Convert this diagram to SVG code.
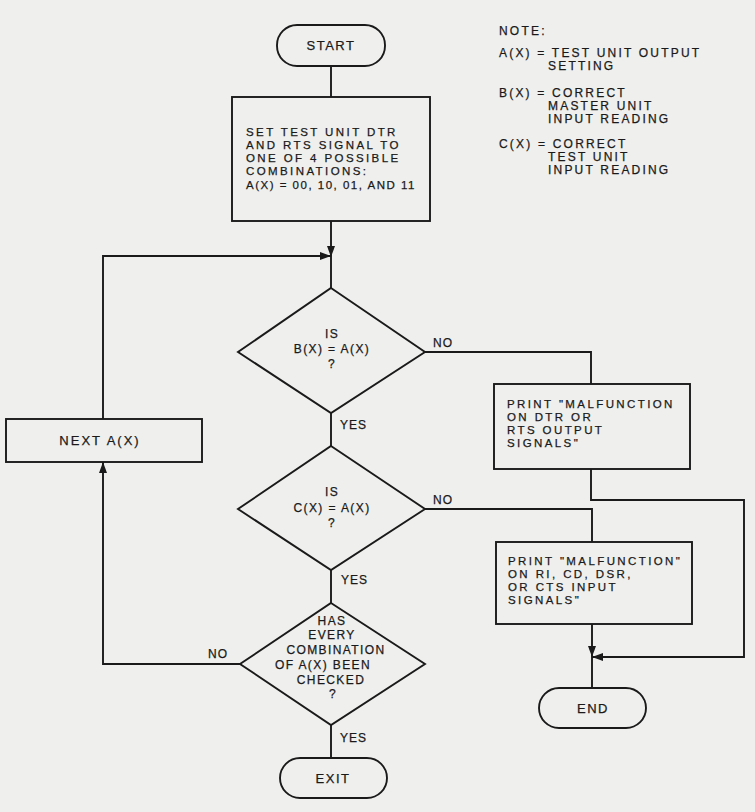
<svg xmlns="http://www.w3.org/2000/svg" width="755" height="812" viewBox="0 0 755 812">
<style>
  .bg{fill:#efefed}
  .shape{fill:none;stroke:#1a1a1a;stroke-width:1.9}
  .line{fill:none;stroke:#1a1a1a;stroke-width:1.9}
  text{font-family:"Liberation Sans",Arial,sans-serif;fill:#1a1a1a;stroke:#1a1a1a;stroke-width:0.25}
  .t{font-size:11.5px;letter-spacing:2.4px}
  .c{font-size:12px;letter-spacing:1.4px;text-anchor:middle}
  .m{font-size:13px;letter-spacing:1.5px;text-anchor:middle}
  .lbl{font-size:12px;letter-spacing:1px}
  .note{font-size:12px;letter-spacing:2.2px}
</style>
<defs>
  <marker id="arr" markerWidth="12" markerHeight="10" refX="11" refY="5" orient="auto" markerUnits="userSpaceOnUse">
    <path d="M0,1 L11,5 L0,9 Z" fill="#1a1a1a"/>
  </marker>
</defs>
<rect class="bg" x="0" y="0" width="755" height="812"/>

<g id="connectors">
  <path class="line" d="M331,66 V97"/>
  <path class="line" d="M331,221 V257" marker-end="url(#arr)"/>
  <path class="line" d="M331,257 V288"/>
  <path class="line" d="M103,419 V256 H331" marker-end="url(#arr)"/>
  <path class="line" d="M331,413 V446"/>
  <path class="line" d="M331,570 V603"/>
  <path class="line" d="M240,664 H103 V462" marker-end="url(#arr)"/>
  <path class="line" d="M331,725 V758"/>
  <path class="line" d="M425,352 H591 V384"/>
  <path class="line" d="M591,469 V500 H744 V657 H592" marker-end="url(#arr)"/>
  <path class="line" d="M425,509 H592 V542"/>
  <path class="line" d="M592,624 V657" marker-end="url(#arr)"/>
  <path class="line" d="M592,657 V688"/>
  <text class="lbl" x="433" y="347">NO</text>
  <text class="lbl" x="340" y="429">YES</text>
  <text class="lbl" x="433" y="504">NO</text>
  <text class="lbl" x="341" y="584">YES</text>
  <text class="lbl" x="208" y="658">NO</text>
  <text class="lbl" x="340" y="742">YES</text>
</g>

<g id="start">
  <rect class="shape" x="277" y="25" width="108" height="41" rx="20"/>
  <text class="m" x="331" y="50">START</text>
</g>

<g id="set-signals">
  <rect class="shape" x="232" y="97" width="198" height="124"/>
  <text class="t" x="246" y="136">SET TEST UNIT DTR</text>
  <text class="t" x="246" y="149">AND RTS SIGNAL TO</text>
  <text class="t" x="246" y="162">ONE OF 4 POSSIBLE</text>
  <text class="t" x="246" y="175">COMBINATIONS:</text>
  <text class="t" x="246" y="189" style="letter-spacing:1.5px">A(X) = 00, 10, 01, AND 11</text>
</g>

<g id="decision-b">
  <polygon class="shape" points="331,288 425,352 331,413 238,352"/>
  <text class="c" x="332" y="338">IS</text>
  <text class="c" x="332" y="353">B(X) = A(X)</text>
  <text class="c" x="332" y="368">?</text>
</g>

<g id="decision-c">
  <polygon class="shape" points="331,446 425,509 331,570 238,509"/>
  <text class="c" x="332" y="496">IS</text>
  <text class="c" x="332" y="512">C(X) = A(X)</text>
  <text class="c" x="332" y="527">?</text>
</g>

<g id="decision-all">
  <polygon class="shape" points="331,603 425,664 331,725 240,664"/>
  <text class="c" x="332" y="625">HAS</text>
  <text class="c" x="332" y="639">EVERY</text>
  <text class="c" x="336" y="654">COMBINATION</text>
  <text class="c" x="323" y="669">OF A(X) BEEN</text>
  <text class="c" x="331" y="684">CHECKED</text>
  <text class="c" x="333" y="698">?</text>
</g>

<g id="next-ax">
  <rect class="shape" x="6" y="419" width="196" height="43"/>
  <text class="m" x="100" y="445" style="letter-spacing:2px">NEXT A(X)</text>
</g>

<g id="print-output">
  <rect class="shape" x="494" y="384" width="196" height="85"/>
  <text class="t" x="507" y="408">PRINT "MALFUNCTION</text>
  <text class="t" x="507" y="421">ON DTR OR</text>
  <text class="t" x="507" y="434">RTS OUTPUT</text>
  <text class="t" x="507" y="447">SIGNALS"</text>
</g>

<g id="print-input">
  <rect class="shape" x="496" y="542" width="196" height="82"/>
  <text class="t" x="508" y="565">PRINT "MALFUNCTION"</text>
  <text class="t" x="508" y="578">ON RI, CD, DSR,</text>
  <text class="t" x="508" y="591">OR CTS INPUT</text>
  <text class="t" x="508" y="604">SIGNALS"</text>
</g>

<g id="end">
  <rect class="shape" x="539" y="688" width="107" height="40" rx="20"/>
  <text class="m" x="593" y="713">END</text>
</g>

<g id="exit">
  <rect class="shape" x="280" y="758" width="107" height="40" rx="20"/>
  <text class="m" x="333" y="783">EXIT</text>
</g>

<g id="note">
  <text class="note" x="499" y="35">NOTE:</text>
  <text class="note" x="499" y="57">A(X) = TEST UNIT OUTPUT</text>
  <text class="note" x="548" y="70">SETTING</text>
  <text class="note" x="499" y="97">B(X) = CORRECT</text>
  <text class="note" x="548" y="110">MASTER UNIT</text>
  <text class="note" x="548" y="123">INPUT READING</text>
  <text class="note" x="499" y="148">C(X) = CORRECT</text>
  <text class="note" x="548" y="161">TEST UNIT</text>
  <text class="note" x="548" y="174">INPUT READING</text>
</g>
</svg>
